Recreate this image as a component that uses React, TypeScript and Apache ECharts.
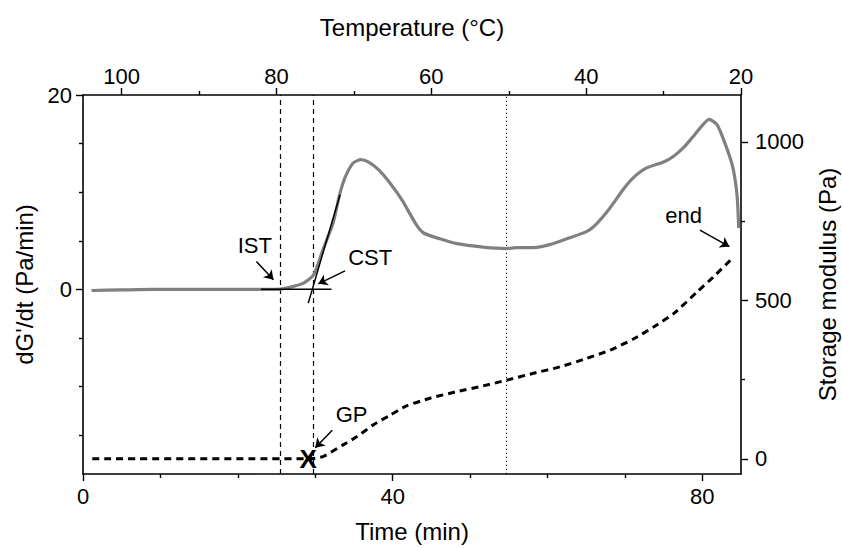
import { useEffect, useRef } from "react";
import * as echarts from "echarts";

// ---- tick values ----
const timeTicks = [0, 40, 80];
const timeMinorTicks = [10, 20, 30, 50, 60, 70];
const tempTicks = [20, 40, 60, 80, 100];
const tempMinorTicks = [30, 50, 70, 90];
const rateTicks = [0, 20];
const rateMinorTicks = [-15, -10, -5, 5, 10, 15];
const modulusTicks = [0, 500, 1000];
const modulusMinorTicks = [250, 750];

// ---- dG'/dt curve (left axis) ----
const rateTime = [1.1, 5, 9, 15, 20, 24, 25.5, 26.7, 28.5, 29.8, 31.0, 32.3, 33.2, 33.9, 34.9, 35.9, 36.9, 38.2, 39.7, 41.2, 43.1, 44.0, 46.1, 48.3, 51.7, 54.7, 56.0, 58.2, 60.3, 62.5, 65.1, 66.4, 68.1, 69.8, 71.1, 72.8, 75.0, 76.3, 77.6, 78.9, 80.9, 81.9, 82.9, 83.9, 84.5, 84.7];
const rateValues = [-0.12, -0.06, 0, 0, 0, 0, 0.03, 0.2, 0.64, 1.5, 4.1, 6.8, 9.9, 11.6, 13.0, 13.35, 13.1, 12.3, 10.9, 9.2, 6.6, 5.8, 5.2, 4.7, 4.35, 4.2, 4.3, 4.3, 4.6, 5.2, 5.96, 6.8, 8.4, 10.3, 11.5, 12.5, 13.1, 13.7, 14.6, 15.8, 17.5, 16.95, 15.1, 12.7, 9.6, 6.3];

// ---- storage modulus curve (right axis) ----
const modulusTime = [1.2, 29.1, 31.0, 33.6, 35.4, 37.5, 39.7, 41.8, 44.8, 48.3, 51.7, 54.7, 58.2, 61.6, 65.1, 68.1, 71.1, 73.7, 76.3, 79.3, 81.4, 83.8];
const modulusValues = [0, 0, 7, 44, 70, 107, 138, 167, 191, 212, 230, 248, 270, 290, 317, 343, 378, 416, 458, 526, 573, 631];

// ---- markers ----
const istTime = 25.5;
const cstTime = 29.7;
const dottedTime = 54.7;
const baselineTangent = [[23.0, 0], [32.1, 0]];
const slopeTangent = [[29.1, -1.42], [33.2, 9.74]];
const gelPoint = [29.1, 0];
const annotationNames = ["IST", "CST", "GP", "end"];
const annotationPos = [[22.2, 4.5], [37.1, 3.25], [34.7, -12.9], [77.6, 7.6]];
const arrowFrom = [[22.4, 2.87], [33.85, 1.9], [32.2, -14.5], [79.7, 6.1]];
const arrowTo = [[24.6, 0.98], [30.4, 0.57], [30.0, -16.3], [83.5, 4.4]];

const FONT = "'Liberation Sans', Arial, Helvetica, sans-serif";

export default function App() {
  const ref = useRef<HTMLDivElement>(null);

  useEffect(() => {
    document.body.style.margin = "0";
    if (!ref.current) return;
    const chart = echarts.init(ref.current, undefined, { renderer: "svg" });

    const axisLine = { show: true, onZero: false, lineStyle: { color: "#000", width: 1.6 } };
    const labelStyle = { color: "#000", fontSize: 22, fontFamily: FONT, formatter: (v: number) => String(v) };
    const nameStyle = { color: "#000", fontSize: 24, fontFamily: FONT };

    const minorX = (position: string, min: number, max: number, ticks: number[], inverse = false) => ({
      type: "value",
      position,
      min,
      max,
      inverse,
      axisLine: { show: false, onZero: false },
      axisLabel: { show: false },
      splitLine: { show: false },
      axisTick: { show: true, customValues: ticks, length: 4, lineStyle: { color: "#000", width: 1.4 } },
    });
    const minorY = (position: string, min: number, max: number, ticks: number[]) => ({
      type: "value",
      position,
      min,
      max,
      axisLine: { show: false, onZero: false },
      axisLabel: { show: false },
      splitLine: { show: false },
      axisTick: { show: true, customValues: ticks, length: 4, lineStyle: { color: "#000", width: 1.4 } },
    });

    const rateData = rateTime.map((t, i) => [t, rateValues[i]]);
    const modulusData = modulusTime.map((t, i) => [t, modulusValues[i]]);

    const textLabel = (fontSize: number, bold: boolean) => ({
      show: true,
      position: "inside",
      formatter: "{b}",
      color: "#000",
      opacity: 1,
      textBorderWidth: 0,
      fontSize,
      fontWeight: bold ? "bold" : "normal",
      fontFamily: FONT,
    });

    chart.setOption({
      animation: false,
      textStyle: { fontFamily: FONT },
      grid: { left: 83, right: 101, top: 95, bottom: 74, containLabel: false, outerBoundsMode: "none" },
      xAxis: [
        {
          type: "value",
          position: "bottom",
          min: 0,
          max: 85,
          name: "Time (min)",
          nameLocation: "middle",
          nameGap: 45,
          nameTextStyle: nameStyle,
          axisLine,
          axisTick: { show: true, customValues: timeTicks, length: 7, lineStyle: { color: "#000", width: 1.4 } },
          axisLabel: { ...labelStyle, customValues: timeTicks, margin: 11 },
          splitLine: { show: false },
        },
        {
          type: "value",
          position: "top",
          min: 20,
          max: 105,
          inverse: true,
          name: "Temperature (°C)",
          nameLocation: "middle",
          nameGap: 56,
          nameTextStyle: nameStyle,
          axisLine,
          axisTick: { show: true, customValues: tempTicks, length: 7, lineStyle: { color: "#000", width: 1.4 } },
          axisLabel: { ...labelStyle, customValues: tempTicks, margin: 8 },
          splitLine: { show: false },
        },
        minorX("bottom", 0, 85, timeMinorTicks),
        minorX("top", 20, 105, tempMinorTicks, true),
      ],
      yAxis: [
        {
          type: "value",
          position: "left",
          min: -19,
          max: 20,
          name: "dG'/dt (Pa/min)",
          nameLocation: "middle",
          nameGap: 41,
          nameRotate: 90,
          nameTextStyle: nameStyle,
          axisLine,
          axisTick: { show: true, customValues: rateTicks, length: 7, lineStyle: { color: "#000", width: 1.4 } },
          axisLabel: { ...labelStyle, customValues: rateTicks, margin: 11 },
          splitLine: { show: false },
        },
        {
          type: "value",
          position: "right",
          min: -48,
          max: 1148,
          name: "Storage modulus (Pa)",
          nameLocation: "middle",
          nameGap: 74,
          nameRotate: 90,
          nameTextStyle: nameStyle,
          axisLine,
          axisTick: { show: true, customValues: modulusTicks, length: 7, lineStyle: { color: "#000", width: 1.4 } },
          axisLabel: { ...labelStyle, customValues: modulusTicks, margin: 14 },
          splitLine: { show: false },
        },
        minorY("left", -19, 20, rateMinorTicks),
        minorY("right", -48, 1148, modulusMinorTicks),
      ],
      series: [
        {
          name: "modulus",
          type: "line",
          xAxisIndex: 0,
          yAxisIndex: 1,
          data: modulusData,
          showSymbol: false,
          symbol: "none",
          smooth: 0.2,
          lineStyle: { color: "#000", width: 3, type: [7, 5] },
          z: 3,
        },
        {
          name: "rate",
          type: "line",
          xAxisIndex: 0,
          yAxisIndex: 0,
          data: rateData,
          showSymbol: false,
          symbol: "none",
          smooth: 0.2,
          lineStyle: { color: "#808080", width: 3.2 },
          z: 4,
          markLine: {
            silent: true,
            symbol: ["none", "none"],
            label: { show: false },
            data: [
              { xAxis: istTime, lineStyle: { color: "#000", width: 1.2, type: [5, 4] } },
              { xAxis: cstTime, lineStyle: { color: "#000", width: 1.2, type: [5, 4] } },
              { xAxis: dottedTime, lineStyle: { color: "#000", width: 1, type: [1.2, 2.8] } },
            ],
            z: 2,
          },
        },
        {
          name: "baseline tangent",
          type: "line",
          xAxisIndex: 0,
          yAxisIndex: 0,
          data: baselineTangent,
          showSymbol: false,
          symbol: "none",
          lineStyle: { color: "#000", width: 1.5 },
          z: 5,
        },
        {
          name: "slope tangent",
          type: "line",
          xAxisIndex: 0,
          yAxisIndex: 0,
          data: slopeTangent,
          showSymbol: false,
          symbol: "none",
          lineStyle: { color: "#000", width: 1.5 },
          z: 5,
        },
        {
          name: "gel point",
          type: "scatter",
          xAxisIndex: 0,
          yAxisIndex: 1,
          data: [{ value: gelPoint, name: "X" }],
          symbol: "circle",
          symbolSize: 0,
          itemStyle: { color: "#000", opacity: 1 },
          label: textLabel(26, true),
          z: 6,
        },
        {
          name: "annotations",
          type: "scatter",
          xAxisIndex: 0,
          yAxisIndex: 0,
          data: annotationPos.map((p, i) => ({ value: p, name: annotationNames[i] })),
          symbol: "circle",
          symbolSize: 0,
          itemStyle: { color: "#000", opacity: 1 },
          label: textLabel(22, false),
          markLine: {
            silent: true,
            symbol: ["none", "arrow"],
            symbolSize: 9,
            label: { show: false },
            lineStyle: { color: "#000", width: 1.5, type: "solid", opacity: 1 },
            data: arrowFrom.map((f, i) => [{ coord: f }, { coord: arrowTo[i] }]),
          },
          z: 6,
        },
      ],
    });

    return () => chart.dispose();
  }, []);

  return <div ref={ref} style={{ width: 842, height: 548 }} />;
}
